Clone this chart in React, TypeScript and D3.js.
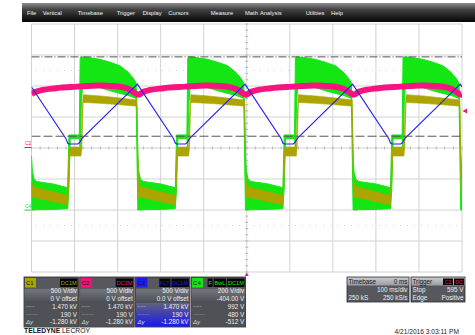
import React, { useEffect, useRef } from "react";
import * as d3 from "d3";

// time axis: 100 ms/div, 10 divisions, trigger at centre
// C4 (green) envelope: [time ms, upper div, lower div]
const c4Envelope: [number, number, number][] = [
  [-500, -0.25, -2.0], [-498, -0.75, -2.0], [-494, -1.0, -2.0], [-489, -1.08, -1.99],
  [-450, -1.16, -1.98], [-416, -1.28, -1.96], [-413, 0.42, -1.3], [-410, 0.42, 0.3],
  [-389, 0.42, 0.3], [-387, 2.9, 0.0], [-384, 2.94, 1.5], [-381, 2.94, 2.1],
  [-360, 2.9, 2.02], [-341, 2.86, 1.95], [-318, 2.77, 1.85], [-294, 2.65, 1.76],
  [-276, 2.45, 1.7], [-264, 2.26, 1.64], [-257, 2.1, 1.6],
  [-253, -0.2, -2.0], [-251, -0.75, -2.0], [-247, -1.0, -2.0], [-240, -1.08, -1.99],
  [-200, -1.16, -1.98], [-166, -1.28, -1.96], [-163, 0.42, -1.3], [-160, 0.42, 0.3],
  [-139, 0.42, 0.3], [-137, 2.9, 0.0], [-134, 2.94, 1.5], [-131, 2.94, 2.1],
  [-110, 2.9, 2.02], [-91, 2.86, 1.95], [-68, 2.77, 1.85], [-44, 2.65, 1.76],
  [-26, 2.45, 1.7], [-14, 2.26, 1.64], [-7, 2.1, 1.6],
  [-3, -0.2, -2.0], [-1, -0.75, -2.0], [3, -1.0, -2.0], [10, -1.08, -1.99],
  [50, -1.16, -1.98], [84, -1.28, -1.96], [87, 0.42, -1.3], [90, 0.42, 0.3],
  [111, 0.42, 0.3], [113, 2.9, 0.0], [116, 2.94, 1.5], [119, 2.94, 2.1],
  [140, 2.9, 2.02], [159, 2.86, 1.95], [182, 2.77, 1.85], [206, 2.65, 1.76],
  [224, 2.45, 1.7], [236, 2.26, 1.64], [243, 2.1, 1.6],
  [247, -0.2, -2.0], [249, -0.75, -2.0], [253, -1.0, -2.0], [260, -1.08, -1.99],
  [300, -1.16, -1.98], [334, -1.28, -1.96], [337, 0.42, -1.3], [340, 0.42, 0.3],
  [361, 0.42, 0.3], [363, 2.9, 0.0], [366, 2.94, 1.5], [369, 2.94, 2.1],
  [390, 2.9, 2.02], [409, 2.86, 1.95], [432, 2.77, 1.85], [456, 2.65, 1.76],
  [474, 2.45, 1.7], [486, 2.26, 1.64], [493, 2.1, 1.6],
  [497, -0.2, -2.0], [500, -0.8, -2.0],
];

// C1 (olive) band: [time ms, upper div, lower div]
const c1Envelope: [number, number, number][] = [
  [-500, -1.1, -1.6], [-497, -1.24, -1.58], [-460, -1.38, -1.7], [-416, -1.53, -1.83],
  [-413, -0.1, -0.9], [-411, 0.03, -0.26], [-385, 0.03, -0.26], [-383, 1.0, 0.0],
  [-380, 1.72, 1.47], [-340, 1.68, 1.44], [-300, 1.62, 1.4], [-255, 1.55, 1.35],
  [-252, -1.0, -1.6], [-248, -1.24, -1.58], [-210, -1.38, -1.7], [-166, -1.53, -1.83],
  [-163, -0.1, -0.9], [-161, 0.03, -0.26], [-135, 0.03, -0.26], [-133, 1.0, 0.0],
  [-130, 1.72, 1.47], [-90, 1.68, 1.44], [-50, 1.62, 1.4], [-5, 1.55, 1.35],
  [-2, -1.0, -1.6], [2, -1.24, -1.58], [40, -1.38, -1.7], [84, -1.53, -1.83],
  [87, -0.1, -0.9], [89, 0.03, -0.26], [115, 0.03, -0.26], [117, 1.0, 0.0],
  [120, 1.72, 1.47], [160, 1.68, 1.44], [200, 1.62, 1.4], [245, 1.55, 1.35],
  [248, -1.0, -1.6], [252, -1.24, -1.58], [290, -1.38, -1.7], [334, -1.53, -1.83],
  [337, -0.1, -0.9], [339, 0.03, -0.26], [365, 0.03, -0.26], [367, 1.0, 0.0],
  [370, 1.72, 1.47], [410, 1.68, 1.44], [450, 1.62, 1.4], [495, 1.55, 1.35],
  [498, -1.0, -1.6], [500, -1.2, -1.6],
];

// C3 (blue) triangle: [time ms, div]
const c3Trace: [number, number][] = [
  [-500, 1.97], [-420, 0.3], [-416, 0.16], [-413, 0.13], [-392, 0.13], [-388, 0.18], [-383, 0.3],
  [-254, 2.06], [-170, 0.3], [-166, 0.16], [-163, 0.13], [-142, 0.13], [-138, 0.18], [-133, 0.3],
  [-4, 2.06], [80, 0.3], [84, 0.16], [87, 0.13], [108, 0.13], [112, 0.18], [117, 0.3],
  [246, 2.06], [330, 0.3], [334, 0.16], [337, 0.13], [358, 0.13], [362, 0.18], [367, 0.3],
  [496, 2.06], [500, 1.97],
];

// C2 (magenta): [time ms, div]
const c2Trace: [number, number][] = [
  [-500, 1.74], [-489, 1.82], [-444, 1.93], [-394, 1.98], [-344, 2.02], [-304, 1.99], [-274, 1.9], [-259, 1.77],
  [-252, 1.72], [-239, 1.82], [-194, 1.93], [-144, 1.98], [-94, 2.02], [-54, 1.99], [-24, 1.9], [-9, 1.77],
  [-2, 1.72], [11, 1.82], [56, 1.93], [106, 1.98], [156, 2.02], [196, 1.99], [226, 1.9], [241, 1.77],
  [248, 1.72], [261, 1.82], [306, 1.93], [356, 1.98], [406, 2.02], [446, 1.99], [476, 1.9], [491, 1.77],
  [498, 1.72], [500, 1.73],
];

const cursorVolts = [1470, 190];
const triggerVolts = 595;
const c4OffsetVolts = -404;

const menuItems = ["File", "Vertical", "Timebase", "Trigger", "Display", "Cursors", "Measure", "Math", "Analysis", "Utilities", "Help"];
const menuX = [27, 42.7, 77.7, 116.7, 142.7, 168.3, 210.7, 245, 260, 305.7, 331];

const channels = ["C1", "C2", "C3", "C4"];
const channelColors = ["#aca400", "#f0147c", "#1c1cf2", "#14e614"];
const channelTags = [["DC1M"], ["DC1M"], ["FLT", "DC1M"], ["F", "BwL", "DC1M"]];
const voltsPerDiv = ["500 V/div", "500 V/div", "500 V/div", "200 V/div"];
const offsets = ["0 V offset", "0 V offset", "0.0 V offset", "-404.00 V"];
const cursorA = ["1.470 kV", "1.470 kV", "1.470 kV", "992 V"];
const cursorB = ["190 V", "190 V", "190 V", "480 V"];
const deltaY = ["-1.280 kV", "-1.280 kV", "-1.280 kV", "-512 V"];

const FONT = "'Liberation Sans', Arial, sans-serif";

export default function App() {
  const ref = useRef<SVGSVGElement>(null);

  useEffect(() => {
    const svg = d3.select(ref.current);
    svg.selectAll("*").remove();

    const x = d3.scaleLinear().domain([-500, 500]).range([31.5, 462]);
    const y = d3.scaleLinear().domain([-4, 4]).range([272, 24]);
    const yC1 = d3.scaleLinear().domain([-2000, 2000]).range([272, 24]);
    const yC2 = yC1;
    const yC4 = d3.scaleLinear().domain([-800 - c4OffsetVolts, 800 - c4OffsetVolts]).range([272, 24]);

    const defs = svg.append("defs");
    const menuGrad = defs.append("linearGradient").attr("id", "menuGrad").attr("x1", 0).attr("x2", 0).attr("y1", 0).attr("y2", 1);
    menuGrad.append("stop").attr("offset", 0).attr("stop-color", "#8c8c8c");
    menuGrad.append("stop").attr("offset", 0.35).attr("stop-color", "#414141");
    menuGrad.append("stop").attr("offset", 1).attr("stop-color", "#050505");

    const bodyGrad = defs.append("linearGradient").attr("id", "bodyGrad").attr("x1", 0).attr("x2", 0).attr("y1", 0).attr("y2", 1);
    bodyGrad.append("stop").attr("offset", 0).attr("stop-color", "#74767d");
    bodyGrad.append("stop").attr("offset", 1).attr("stop-color", "#4c4e55");

    const blueGrad = defs.append("linearGradient").attr("id", "blueGrad").attr("x1", 0).attr("x2", 0).attr("y1", 0).attr("y2", 1);
    blueGrad.append("stop").attr("offset", 0).attr("stop-color", "#60627a");
    blueGrad.append("stop").attr("offset", 1).attr("stop-color", "#1818f0");

    const headGrad = defs.append("linearGradient").attr("id", "headGrad").attr("x1", 0).attr("x2", 0).attr("y1", 0).attr("y2", 1);
    headGrad.append("stop").attr("offset", 0).attr("stop-color", "#c9cacd");
    headGrad.append("stop").attr("offset", 1).attr("stop-color", "#9a9ca1");

    defs.append("clipPath").attr("id", "plotClip")
      .append("rect").attr("x", 31.5).attr("y", 24).attr("width", 430.5).attr("height", 248);

    // menu bar
    svg.append("rect").attr("x", 22).attr("y", 3).attr("width", 453).attr("height", 19).attr("fill", "url(#menuGrad)");
    svg.append("g").selectAll("text").data(menuItems).enter().append("text")
      .attr("x", (d, i) => menuX[i]).attr("y", 15.2)
      .attr("fill", "#f2f2f2").attr("font-size", 5.8).attr("font-family", FONT)
      .text(d => d);

    // graticule
    const grid = svg.append("g");
    grid.selectAll("line.v").data(d3.range(-500, 501, 100)).enter().append("line")
      .attr("x1", d => x(d)).attr("x2", d => x(d)).attr("y1", 24).attr("y2", 272)
      .attr("stroke", "#d2d2d2").attr("stroke-width", 1);
    grid.selectAll("line.h").data(d3.range(-4, 5, 1)).enter().append("line")
      .attr("x1", 31.5).attr("x2", 462).attr("y1", d => y(d)).attr("y2", d => y(d))
      .attr("stroke", "#d2d2d2").attr("stroke-width", 1);
    grid.selectAll("line.tx").data(d3.range(-500, 501, 20)).enter().append("line")
      .attr("x1", d => x(d)).attr("x2", d => x(d)).attr("y1", y(0) - 1.5).attr("y2", y(0) + 1.5)
      .attr("stroke", "#a8a8a8").attr("stroke-width", 0.8);
    grid.selectAll("line.ty").data(d3.range(-4, 4.01, 0.2)).enter().append("line")
      .attr("x1", x(0) - 1.5).attr("x2", x(0) + 1.5).attr("y1", d => y(d)).attr("y2", d => y(d))
      .attr("stroke", "#a8a8a8").attr("stroke-width", 0.8);
    grid.selectAll("line.dot").data([2.5, -2.5]).enter().append("line")
      .attr("x1", 36).attr("x2", 462).attr("y1", d => y(d)).attr("y2", d => y(d))
      .attr("stroke", "#c4c4c4").attr("stroke-width", 0.8).attr("stroke-dasharray", "1,6");

    // traces
    const plot = svg.append("g").attr("clip-path", "url(#plotClip)");
    const band = d3.area<[number, number, number]>()
      .x(d => x(d[0])).y0(d => y(d[2])).y1(d => y(d[1]));
    plot.append("path").datum(c4Envelope).attr("d", band)
      .attr("fill", "#14e614").attr("stroke", "#14e614").attr("stroke-width", 1);
    plot.append("path").datum(c1Envelope).attr("d", band)
      .attr("fill", "#aca400").attr("stroke", "#aca400").attr("stroke-width", 0.6);

    const trace = d3.line<[number, number]>().x(d => x(d[0])).y(d => y(d[1]));
    plot.append("path").datum(c2Trace).attr("d", trace.curve(d3.curveMonotoneX))
      .attr("fill", "none").attr("stroke", "#f8147f").attr("stroke-width", 6);
    plot.append("path").datum(c3Trace).attr("d", trace.curve(d3.curveLinear))
      .attr("fill", "none").attr("stroke", "#1e1ef0").attr("stroke-width", 1.1);

    // cursors
    plot.append("line").attr("x1", 31.5).attr("x2", 462)
      .attr("y1", yC1(cursorVolts[0])).attr("y2", yC1(cursorVolts[0]))
      .attr("stroke", "#555").attr("stroke-width", 1).attr("stroke-dasharray", "8,2,1,2");
    plot.append("line").attr("x1", 31.5).attr("x2", 462)
      .attr("y1", yC1(cursorVolts[1])).attr("y2", yC1(cursorVolts[1]))
      .attr("stroke", "#555").attr("stroke-width", 1).attr("stroke-dasharray", "9,3");

    // channel ground markers
    const markers = [
      { label: "C2", color: "#f0147c", yy: yC2(0) },
      { label: "C4", color: "#14d814", yy: yC4(0) },
    ];
    markers.forEach(m => {
      svg.append("text").attr("x", 25).attr("y", m.yy - 3).attr("font-size", 5).attr("font-family", FONT)
        .attr("fill", m.color).text(m.label);
      svg.append("line").attr("x1", 24.5).attr("x2", 31).attr("y1", m.yy - 0.5).attr("y2", m.yy - 0.5)
        .attr("stroke", m.color).attr("stroke-width", 1);
    });

    // trigger level + trigger time markers
    const ty = yC2(triggerVolts);
    svg.append("path").attr("d", `M${462.5},${ty} L${467},${ty - 2.5} L${467},${ty + 2.5} Z`).attr("fill", "#f0147c");
    svg.append("path").attr("d", `M${x(0)},${272.5} L${x(0) - 2},${276} L${x(0) + 2},${276} Z`).attr("fill", "#f0147c");

    // channel info panels
    const textAt = (g: any, tx: number, tyy: number, s: string, anchor: string, color: string, size = 6.3) =>
      g.append("text").attr("x", tx).attr("y", tyy).attr("text-anchor", anchor)
        .attr("font-size", size).attr("font-family", FONT).attr("fill", color).text(s);

    channels.forEach((c, i) => {
      const px = 24 + i * 55.7;
      const pw = 54.5;
      const g = svg.append("g");
      g.append("rect").attr("x", px).attr("y", 277).attr("width", pw).attr("height", 50)
        .attr("fill", "#56585e").attr("stroke", "#2e2e30").attr("stroke-width", 0.8);
      g.append("rect").attr("x", px + 0.5).attr("y", 289).attr("width", pw - 1).attr("height", 14)
        .attr("fill", "url(#bodyGrad)");
      g.append("rect").attr("x", px + 0.5).attr("y", 303).attr("width", pw - 1).attr("height", 23.5)
        .attr("fill", i === 2 ? "url(#blueGrad)" : "#4f5157");
      g.append("rect").attr("x", px + 1).attr("y", 278).attr("width", 11).attr("height", 9.5)
        .attr("fill", channelColors[i]);
      textAt(g, px + 2, 285.3, c, "start", "#111", 6);
      let right = px + pw - 1;
      channelTags[i].slice().reverse().forEach(tag => {
        const t = textAt(g, right - 0.8, 285.3, tag, "end", channelColors[i], 5.6);
        const w = (t.node() as SVGTextElement).getComputedTextLength() + 1.6;
        g.insert("rect", "text:last-of-type").attr("x", right - w).attr("y", 278.5).attr("width", w).attr("height", 8.5).attr("fill", "#050505");
        t.raise();
        right -= w + 1;
      });
      const tx = px + pw - 1.5;
      textAt(g, tx, 293, voltsPerDiv[i], "end", "#eeeeee");
      textAt(g, tx, 300.5, offsets[i], "end", "#eeeeee");
      textAt(g, tx, 309, cursorA[i], "end", "#eeeeee");
      textAt(g, tx, 316.5, cursorB[i], "end", "#eeeeee");
      textAt(g, tx, 324, deltaY[i], "end", "#eeeeee");
      textAt(g, px + 2, 308, "-·-·-", "start", "#dddddd", 5);
      textAt(g, px + 2, 315.5, "·······", "start", "#dddddd", 5);
      textAt(g, px + 2, 324, "Δy", "start", "#dddddd", 6).attr("font-style", "italic");
    });

    // timebase + trigger panels
    const tb = svg.append("g");
    [[347, 62], [411, 54]].forEach(([bx, bw]) => {
      tb.append("rect").attr("x", bx).attr("y", 277).attr("width", bw).attr("height", 25)
        .attr("fill", "#56585e").attr("stroke", "#2e2e30").attr("stroke-width", 0.8);
      tb.append("rect").attr("x", bx + 0.5).attr("y", 277.5).attr("width", bw - 1).attr("height", 8)
        .attr("fill", "url(#headGrad)");
    });
    textAt(tb, 348.5, 284, "Timebase", "start", "#111");
    textAt(tb, 407.5, 284, "0 ms", "end", "#111");
    textAt(tb, 407.5, 292, "100 ms/div", "end", "#eeeeee");
    textAt(tb, 348.5, 300, "250 kS", "start", "#eeeeee");
    textAt(tb, 407.5, 300, "250 kS/s", "end", "#eeeeee");
    textAt(tb, 412.5, 284, "Trigger", "start", "#111");
    tb.append("rect").attr("x", 443).attr("y", 278.5).attr("width", 10).attr("height", 6.5).attr("fill", "#050505");
    tb.append("rect").attr("x", 454).attr("y", 278.5).attr("width", 10).attr("height", 6.5).attr("fill", "#050505");
    textAt(tb, 448, 284, "C2", "middle", "#f0147c", 5.2);
    textAt(tb, 459, 284, "DC", "middle", "#f0147c", 5.2);
    textAt(tb, 412.5, 292, "Stop", "start", "#eeeeee");
    textAt(tb, 463.5, 292, "595 V", "end", "#eeeeee");
    textAt(tb, 412.5, 300, "Edge", "start", "#eeeeee");
    textAt(tb, 463.5, 300, "Positive", "end", "#eeeeee");

    // brand + timestamp
    const brand = svg.append("text").attr("x", 24).attr("y", 333.3).attr("font-size", 7.2).attr("font-family", FONT)
      .attr("fill", "#111").attr("textLength", 66).attr("lengthAdjust", "spacingAndGlyphs");
    brand.append("tspan").attr("font-weight", "bold").text("TELEDYNE ");
    brand.append("tspan").text("LECROY");
    textAt(svg, 459, 334, "4/21/2016 3:03:11 PM", "end", "#222", 6.6);
  }, []);

  return (
    <svg ref={ref} width={475} height={335}
      style={{ position: "absolute", left: 0, top: 0, background: "#fff" }} />
  );
}
